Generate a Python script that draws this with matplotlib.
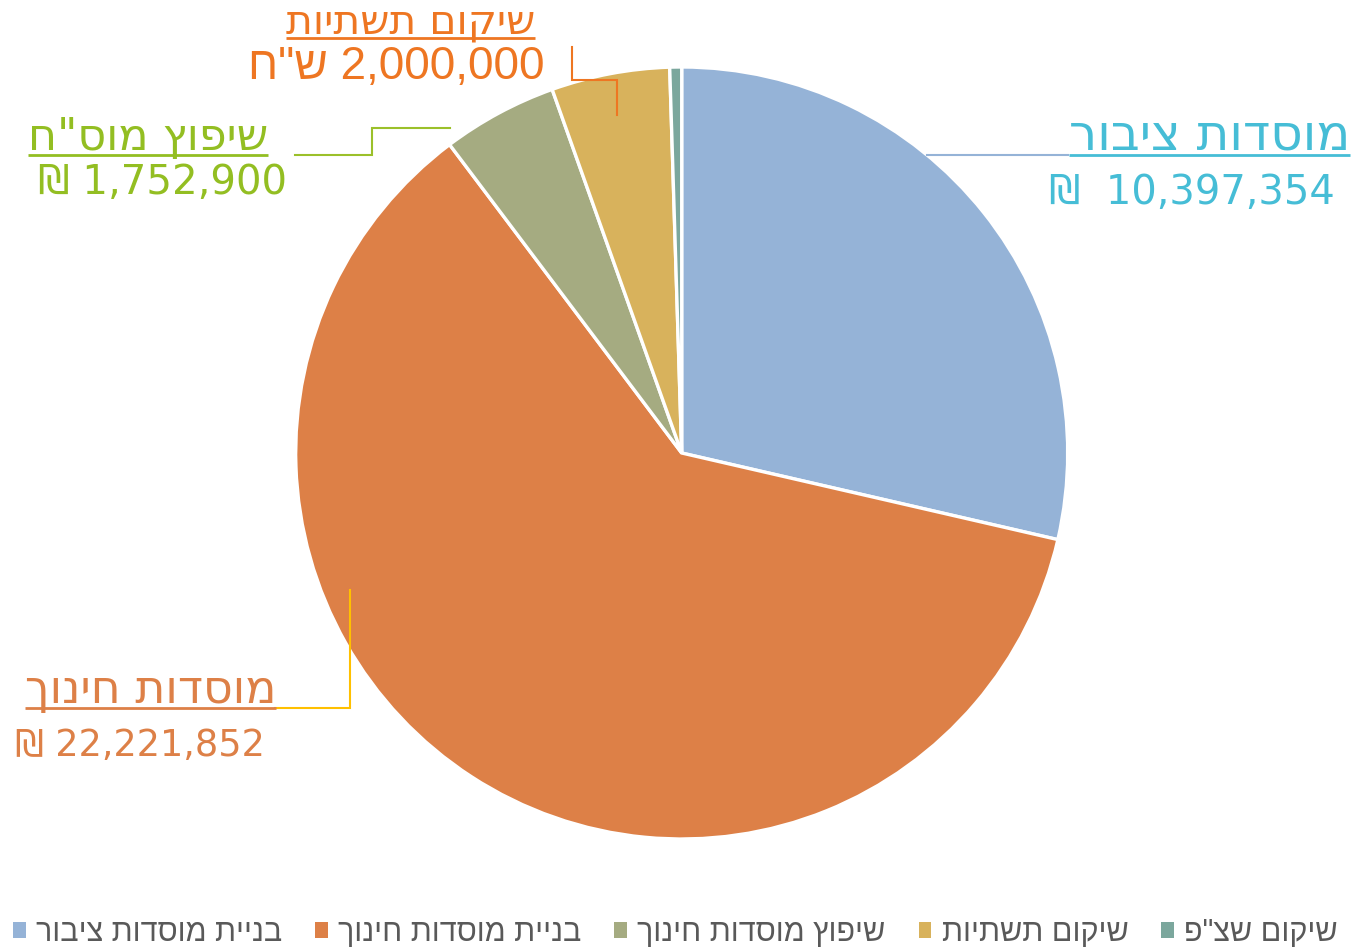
import matplotlib
matplotlib.use("Agg")
import matplotlib.pyplot as plt
from matplotlib.patches import Patch

# ---------------- data ----------------
categories = ["בניית מוסדות ציבור", "בניית מוסדות חינוך", "שיפוץ מוסדות חינוך",
              "שיקום תשתיות", 'שיקום שצ"פ']
values = [10397354, 22221852, 1752900, 1800000, 180000]
colors = ["#95B3D7", "#DD8047", "#A5AB81", "#D8B25C", "#7BA79D"]

label_titles = ["מוסדות ציבור", "מוסדות חינוך", 'שיפוץ מוס"ח', "שיקום תשתיות"]
label_amounts = [10397354, 22221852, 1752900, 2000000]
label_colors = ["#46BDD6", "#DD8047", "#93BE22", "#EE7622"]
leader_colors = ["#95B3D7", "#FFC000", "#9BC02A", "#EE7622"]


def rtl(s):
    """Visual (left-to-right) order for a pure Hebrew string."""
    return s[::-1]


W, H = 1370, 951
fig = plt.figure(figsize=(W / 100, H / 100), dpi=100)
fig.patch.set_facecolor("white")

# ---------------- pie ----------------
cx, cy, r = 681.7, 453.0, 386.0
ax_pie = fig.add_axes([(cx - r) / W, (H - cy - r) / H, 2 * r / W, 2 * r / H])
ax_pie.pie(values, colors=colors, startangle=90, counterclock=False, radius=1,
           wedgeprops=dict(edgecolor="white", linewidth=2.4))
ax_pie.set_xlim(-1.0, 1.0)
ax_pie.set_ylim(-1.0, 1.0)
ax_pie.set_aspect("equal")
ax_pie.axis("off")

# ---------------- overlay (pixel coords, y down) ----------------
ov = fig.add_axes([0, 0, 1, 1])
ov.set_xlim(0, W)
ov.set_ylim(H, 0)
ov.axis("off")
ov.patch.set_alpha(0)

FONT = ["DejaVu Sans"]

# leader lines
leaders = [
    ([927, 1068], [155, 155]),
    ([350, 350, 275], [590, 708, 708]),
    ([450, 372, 372, 295], [128, 128, 155, 155]),
    ([617, 617, 572, 572], [115, 80, 80, 47]),
]
for (xs, ys), c in zip(leaders, leader_colors):
    ov.plot(xs, ys, color=c, lw=1.5, solid_joinstyle="miter")

# title texts (underlined) and amount texts
title_specs = [  # x, baseline y, ha, fontsize
    (1350, 150, "right", 36),
    (25, 703, "left", 33),
    (28, 150, "left", 32),
    (535, 33, "right", 29.5),
]
amount_specs = [
    (1335, 204, "right", 28.8),
    (15, 756, "left", 26.4),
    (38, 194, "left", 29),
    (545, 79, "right", 33),
]

titles = []
for (x, y, ha, fs), t, c in zip(title_specs, label_titles, label_colors):
    titles.append(ov.text(x, y, rtl(t), ha=ha, va="baseline", fontsize=fs,
                          color=c, family=FONT))

amount_strs = [
    "₪  {:,}".format(label_amounts[0]),
    "₪ {:,}".format(label_amounts[1]),
    "₪ {:,}".format(label_amounts[2]),
    rtl('ש"ח') + " {:,}".format(label_amounts[3]),
]
for (x, y, ha, fs), s, c in zip(amount_specs, amount_strs, label_colors):
    fam = ["Liberation Sans", "DejaVu Sans"] if "ח" in s else FONT
    ov.text(x, y, s, ha=ha, va="baseline", fontsize=fs, color=c, family=fam)

# underline titles
fig.canvas.draw()
renderer = fig.canvas.get_renderer()
for t, c, (x, y, ha, fs) in zip(titles, label_colors, title_specs):
    bb = t.get_window_extent(renderer)
    ov.plot([bb.x0, bb.x1], [y + 5, y + 5], color=c, lw=2.0, solid_capstyle="butt")

# ---------------- legend ----------------
handles = [Patch(facecolor=c, edgecolor="none") for c in colors]
leg = fig.legend(handles, [rtl(c) for c in categories], ncol=5, loc="center",
                 bbox_to_anchor=(0.493, 1 - 933 / H), frameon=False,
                 prop=dict(family=["Liberation Sans", "DejaVu Sans"], size=22),
                 handlelength=0.42, handleheight=0.42, handletextpad=0.33,
                 columnspacing=1.08)
for txt in leg.get_texts():
    txt.set_color("#595959")

fig.savefig("out.png", dpi=100, facecolor="white")
